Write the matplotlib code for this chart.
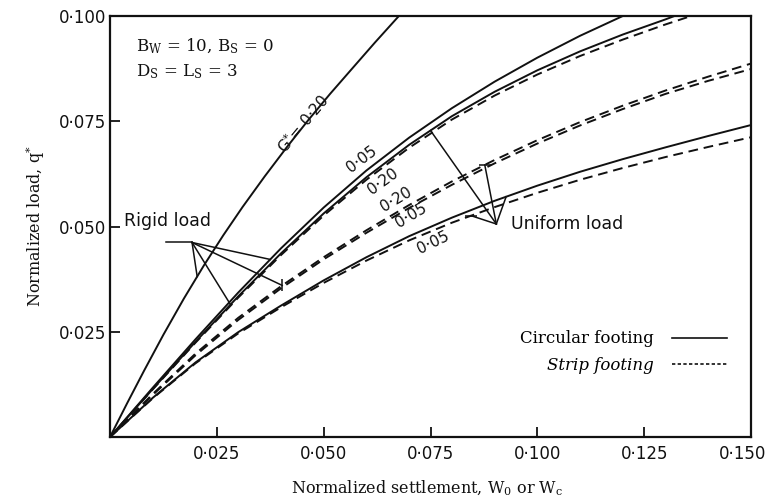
import numpy as np
import matplotlib.pyplot as plt
import matplotlib.transforms as mtransforms
from matplotlib.lines import Line2D

# load-settlement curves, normalized settlement vs normalized load
g20_x = [0, 0.004, 0.008, 0.0125, 0.0173, 0.022, 0.0265, 0.031, 0.0362, 0.0415,
         0.0465, 0.0515, 0.057, 0.062, 0.0676]
g20_y = [0, 0.0080, 0.0158, 0.0243, 0.0329, 0.0408, 0.0479, 0.0546, 0.0619, 0.0690,
         0.0754, 0.0815, 0.0879, 0.0937, 0.1]

grid_x = [0, 0.01, 0.02, 0.03, 0.04, 0.05, 0.06, 0.07, 0.08, 0.09, 0.10, 0.11, 0.12,
          0.13, 0.14, 0.15]

rigid_c05_x = grid_x[:13]
rigid_c05_y = [0, 0.0117, 0.0232, 0.0343, 0.0448, 0.0545, 0.0633, 0.0711, 0.0781,
               0.0844, 0.0901, 0.0953, 0.1000]

rigid_c20_x = grid_x[:14] + [0.1321]
rigid_c20_y = [0, 0.0114, 0.0226, 0.0334, 0.0436, 0.0531, 0.0617, 0.0694, 0.0762,
               0.0820, 0.0871, 0.0916, 0.0956, 0.0992, 0.1]

rigid_s20_x = grid_x[:14] + [0.136]
rigid_s20_y = [0, 0.0113, 0.0224, 0.0331, 0.0432, 0.0526, 0.0611, 0.0687, 0.0754,
               0.0811, 0.0861, 0.0905, 0.0944, 0.0980, 0.1]

unif_s20_y = [0, 0.0102, 0.0198, 0.0283, 0.0358, 0.0427, 0.0491, 0.0551, 0.0607,
              0.0658, 0.0705, 0.0748, 0.0787, 0.0823, 0.0856, 0.0887]
unif_s05_y = [0, 0.0100, 0.0194, 0.0278, 0.0353, 0.0422, 0.0485, 0.0544, 0.0599,
              0.0650, 0.0697, 0.0740, 0.0779, 0.0815, 0.0846, 0.0874]

unif_c05_y = [0, 0.0093, 0.0177, 0.0249, 0.0312, 0.0372, 0.0427, 0.0477, 0.0521,
              0.0561, 0.0597, 0.0630, 0.0660, 0.0688, 0.0715, 0.0741]
unif_s05b_y = [0, 0.0092, 0.0175, 0.0246, 0.0308, 0.0366, 0.0419, 0.0467, 0.0509,
               0.0546, 0.0580, 0.0611, 0.0639, 0.0665, 0.0689, 0.0712]

xticks = [0.025, 0.050, 0.075, 0.100, 0.125, 0.150]
yticks = [0.025, 0.050, 0.075, 0.100]

plt.rcParams['mathtext.fontset'] = 'custom'
plt.rcParams['mathtext.rm'] = 'DejaVu Serif'
plt.rcParams['mathtext.it'] = 'DejaVu Serif:italic'

INK = '#111111'
serif = 'DejaVu Serif'

fig = plt.figure(figsize=(7.73, 5.0), dpi=100)
ax = fig.add_axes([110 / 773, 1 - 437 / 500, 641 / 773, 421 / 500])

solid = dict(color=INK, lw=1.4, solid_capstyle='butt', solid_joinstyle='round')
dashed = dict(color=INK, lw=1.4, linestyle=(0, (5, 3)))

ax.plot(g20_x, g20_y, **solid)
ax.plot(rigid_c05_x, rigid_c05_y, **solid)
ax.plot(rigid_c20_x, rigid_c20_y, **solid)
ax.plot(rigid_s20_x, rigid_s20_y, **dashed)
ax.plot(grid_x, unif_s20_y, **dashed)
ax.plot(grid_x, unif_s05_y, **dashed)
ax.plot(grid_x, unif_c05_y, **solid)
ax.plot(grid_x, unif_s05b_y, **dashed)

# curve labels
lab = dict(fontsize=11, color=INK, ha='center', va='center', rotation_mode='anchor')
ax.text(0.0452, 0.0745, 'G$^{*}$= 0·20', rotation=50, **lab)
ax.text(0.0588, 0.0659, '0·05', rotation=37, **lab)
ax.text(0.0639, 0.0606, '0·20', rotation=36, **lab)
ax.text(0.0670, 0.0565, '0·20', rotation=31, **lab)
ax.text(0.0705, 0.0527, '0·05', rotation=31, **lab)
ax.text(0.0757, 0.0462, '0·05', rotation=26, **lab)


def pointer(x0, y0, cx, cy, xe, bar=None):
    ye = np.interp(xe, cx, cy)
    ax.plot([x0, xe], [y0, ye], color=INK, lw=1.1)
    if bar:
        ax.plot(xe, ye, marker=bar, ms=8, mew=1.1, color=INK)


# rigid load callout
rx, ry = 0.0192, 0.0462
ax.plot([0.0131, rx], [ry, ry], color=INK, lw=1.1)
ax.text(0.0033, 0.0512, 'Rigid load', fontsize=12.5, color=INK, va='center')
pointer(rx, ry, g20_x, g20_y, 0.0204)
pointer(rx, ry, rigid_c20_x, rigid_c20_y, 0.0282)
pointer(rx, ry, rigid_c05_x, rigid_c05_y, 0.0375)
pointer(rx, ry, grid_x, unif_s20_y, 0.0403, bar='|')

# uniform load callout
ux, uy = 0.0904, 0.0506
ax.text(0.0938, 0.0505, 'Uniform load', fontsize=12.5, color=INK, va='center')
pointer(ux, uy, rigid_c20_x, rigid_c20_y, 0.075)
pointer(ux, uy, grid_x, unif_s20_y, 0.0877, bar='_')
pointer(ux, uy, grid_x, unif_c05_y, 0.0927)
pointer(ux, uy, grid_x, unif_s05b_y, 0.0845, bar='_')

# parameters
ax.text(0.006, 0.0929, 'B$_\\mathrm{W}$ = 10, B$_\\mathrm{S}$ = 0', family=serif,
        fontsize=12, color=INK, va='center')
ax.text(0.006, 0.0868, 'D$_\\mathrm{S}$ = L$_\\mathrm{S}$ = 3', family=serif,
        fontsize=12, color=INK, va='center')

handles = [Line2D([], [], color=INK, lw=1.2),
           Line2D([], [], color=INK, lw=1.2, linestyle=(0, (2, 1.4)))]
leg = ax.legend(handles, ['Circular footing', 'Strip footing'], markerfirst=False,
                frameon=False, loc='center right', bbox_to_anchor=(0.975, 0.202),
                prop={'family': serif, 'size': 12}, handlelength=3.3,
                handletextpad=1.1, labelspacing=0.55, borderpad=0)
leg.get_texts()[1].set_style('italic')

ax.set_xlim(0, 0.15)
ax.set_ylim(0, 0.1)
ax.set_xticks(xticks)
ax.set_yticks(yticks)
ax.set_xticklabels([f'{v:.3f}'.replace('.', '·') for v in xticks])
ax.set_yticklabels([f'{v:.3f}'.replace('.', '·') for v in yticks])
ax.tick_params(direction='in', length=7, width=1.3, labelsize=12, colors=INK)
ax.tick_params(axis='x', pad=6)
ax.tick_params(axis='y', pad=3)
for s in ax.spines.values():
    s.set_linewidth(1.6)
    s.set_color(INK)

# keep the last settlement label inside the figure edge
last = ax.get_xticklabels()[-1]
last.set_transform(last.get_transform() +
                   mtransforms.ScaledTranslation(-6 / 72, 0, fig.dpi_scale_trans))

ax.set_xlabel('Normalized settlement, W$_0$ or W$_\\mathrm{c}$', family=serif,
              fontsize=11.5, color=INK)
ax.set_ylabel('Normalized load, q$^{*}$', family=serif, fontsize=11.5, color=INK)
ax.xaxis.set_label_coords(0.495, -0.1)
ax.yaxis.set_label_coords(-0.098, 0.5)

fig.savefig('out.png', dpi=100)
